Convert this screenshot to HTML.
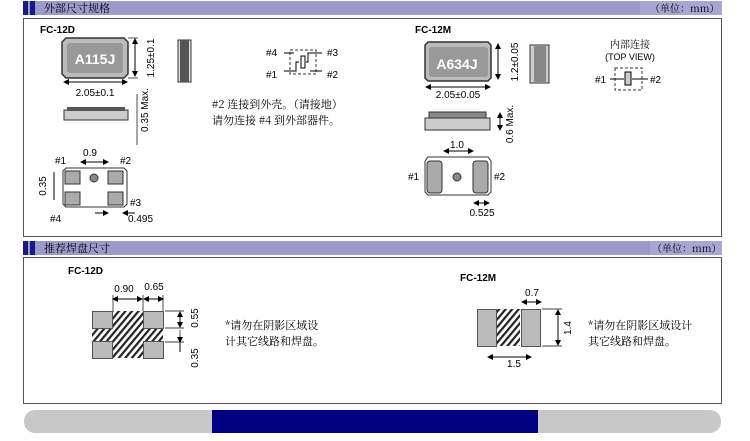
<!DOCTYPE html>
<html><head><meta charset="utf-8"><style>
body{margin:0;background:#fff}
svg text{font-family:"Liberation Sans","Noto Sans CJK SC",sans-serif;fill:#000}
.cn{font-family:"Noto Serif CJK SC","Noto Sans CJK SC",serif}
</style></head><body>
<svg width="750" height="436" viewBox="0 0 750 436" xmlns="http://www.w3.org/2000/svg">
<defs>
<pattern id="h" width="5" height="5" patternUnits="userSpaceOnUse" patternTransform="rotate(40)"><rect width="5" height="5" fill="#fff"/><rect width="2.2" height="5" fill="#222"/></pattern>
<marker id="a" markerWidth="6" markerHeight="6" refX="5" refY="3" orient="auto"><path d="M0,0L6,3L0,6z" fill="#000"/></marker>
<marker id="b" markerWidth="6" markerHeight="6" refX="1" refY="3" orient="auto"><path d="M6,0L0,3L6,6z" fill="#000"/></marker>
</defs>
<rect x="23" y="1" width="699" height="14" fill="#9b9bcb"/>
<rect x="23" y="1" width="5" height="14" fill="#1a1a80"/><rect x="30" y="1" width="5" height="14" fill="#1a1a80"/>
<text x="44" y="12" font-size="11" class="cn" fill="#222">外部尺寸规格</text>
<rect x="640" y="1" width="82" height="14" fill="#a7a7d3"/>
<text x="650" y="12" font-size="10" class="cn">（单位：mm）</text>
<rect x="23.5" y="18.5" width="698" height="218" fill="#fff" stroke="#555"/>
<text x="40" y="33" font-size="10" font-weight="bold">FC-12D</text>
<path d="M66,38H124L128,42V74L124,78H66L62,74V42Z" fill="#bbb" stroke="#333" stroke-width="1.5"/>
<rect x="67" y="43" width="56" height="30" rx="3" fill="#999"/>
<text x="95" y="64" font-size="14" font-weight="bold" text-anchor="middle" style="fill:#fff">A115J</text>
<line x1="135" y1="39" x2="135" y2="76" stroke="#000" marker-start="url(#b)" marker-end="url(#a)"/>
<line x1="128" y1="38" x2="138" y2="38" stroke="#000" stroke-width=".7"/><line x1="128" y1="78" x2="138" y2="78" stroke="#000" stroke-width=".7"/>
<text transform="translate(154,58) rotate(-90)" font-size="10" text-anchor="middle">1.25±0.1</text>
<rect x="178" y="40" width="13" height="42" fill="#ddd" stroke="#333"/><rect x="180" y="40" width="9" height="42" fill="#555"/>
<line x1="64" y1="82" x2="127" y2="82" stroke="#000" marker-start="url(#b)" marker-end="url(#a)"/>
<text x="95" y="96" font-size="10" text-anchor="middle">2.05±0.1</text>
<rect x="64" y="110" width="64" height="10" fill="#ccc" stroke="#333"/><rect x="67" y="107" width="58" height="4" fill="#555"/>
<line x1="137" y1="94" x2="137" y2="145" stroke="#000" stroke-width=".7"/>
<text transform="translate(148,110) rotate(-90)" font-size="10" text-anchor="middle">0.35 Max.</text>
<text x="266" y="56" font-size="10">#4</text><text x="327" y="56" font-size="10">#3</text>
<text x="266" y="78" font-size="10">#1</text><text x="327" y="78" font-size="10">#2</text>
<rect x="290" y="50" width="26" height="24" fill="none" stroke="#333" stroke-dasharray="3,2"/>
<path d="M284,53H294M284,71H296V62H299M306,62H308V53H322M310,71H322" fill="none" stroke="#000"/>
<rect x="301" y="56" width="4" height="12" fill="#fff" stroke="#000"/>
<text x="212" y="108" font-size="11" class="cn">#2 连接到外壳。（请接地）</text>
<text x="212" y="124" font-size="11" class="cn">请勿连接 #4 到外部器件。</text>
<path d="M66,168H124L127,171V204L124,207H66L63,204V171Z" fill="#fff" stroke="#333"/>
<rect x="65" y="171" width="15" height="13" fill="#aaa" stroke="#333"/><rect x="108" y="171" width="15" height="13" fill="#aaa" stroke="#333"/>
<rect x="65" y="192" width="15" height="13" fill="#aaa" stroke="#333"/><rect x="108" y="192" width="15" height="13" fill="#aaa" stroke="#333"/>
<circle cx="94" cy="178" r="4" fill="#888" stroke="#333"/>
<line x1="81" y1="162" x2="108" y2="162" stroke="#000" marker-start="url(#b)" marker-end="url(#a)"/>
<text x="90" y="156" font-size="10" text-anchor="middle">0.9</text>
<text x="55" y="164" font-size="10">#1</text><text x="120" y="164" font-size="10">#2</text>
<text x="130" y="206" font-size="10">#3</text><text x="50" y="222" font-size="10">#4</text>
<text x="128" y="222" font-size="10">0.495</text>
<line x1="54" y1="172" x2="54" y2="200" stroke="#000"/>
<text transform="translate(46,186) rotate(-90)" font-size="10" text-anchor="middle">0.35</text>
<line x1="95" y1="213" x2="108" y2="213" stroke="#000" marker-end="url(#a)"/><line x1="135" y1="213" x2="123" y2="213" stroke="#000" marker-end="url(#a)"/>
<text x="415" y="33" font-size="10" font-weight="bold">FC-12M</text>
<path d="M428,42H488L491,45V78L488,81H428L425,78V45Z" fill="#bbb" stroke="#333" stroke-width="1.5"/>
<rect x="429" y="47" width="59" height="30" rx="3" fill="#999"/>
<text x="457" y="69" font-size="14" font-weight="bold" text-anchor="middle" style="fill:#fff">A634J</text>
<line x1="498" y1="44" x2="498" y2="79" stroke="#000" marker-start="url(#b)" marker-end="url(#a)"/>
<text transform="translate(518,62) rotate(-90)" font-size="10" text-anchor="middle">1.2±0.05</text>
<rect x="530" y="45" width="19" height="38" fill="#ccc" stroke="#333"/><rect x="534" y="45" width="12" height="38" fill="#888"/>
<line x1="426" y1="87" x2="490" y2="87" stroke="#000" marker-start="url(#b)" marker-end="url(#a)"/>
<text x="458" y="98" font-size="10" text-anchor="middle">2.05±0.05</text>
<rect x="425" y="118" width="65" height="12" fill="#ccc" stroke="#333"/><rect x="429" y="112" width="57" height="6" fill="#888" stroke="#333"/>
<line x1="500" y1="113" x2="500" y2="130" stroke="#000" marker-start="url(#b)" marker-end="url(#a)"/>
<text transform="translate(513,124) rotate(-90)" font-size="10" text-anchor="middle">0.6 Max.</text>
<path d="M428,157H488L491,161V192L488,195H428L425,192V161Z" fill="#fff" stroke="#333"/>
<rect x="427" y="161" width="15" height="32" rx="3" fill="#aaa" stroke="#333"/><rect x="473" y="161" width="15" height="32" rx="3" fill="#aaa" stroke="#333"/>
<circle cx="457" cy="177" r="4" fill="#888" stroke="#333"/>
<line x1="444" y1="151" x2="473" y2="151" stroke="#000" marker-start="url(#b)" marker-end="url(#a)"/>
<text x="457" y="148" font-size="10" text-anchor="middle">1.0</text>
<text x="408" y="180" font-size="10">#1</text><text x="494" y="180" font-size="10">#2</text>
<line x1="474" y1="203" x2="489" y2="203" stroke="#000" marker-start="url(#b)" marker-end="url(#a)"/>
<text x="482" y="216" font-size="10" text-anchor="middle">0.525</text>
<text x="630" y="48" font-size="10" text-anchor="middle" class="cn" fill="#333">内部连接</text>
<text x="630" y="60" font-size="9" text-anchor="middle">(TOP VIEW)</text>
<rect x="615" y="68" width="27" height="22" fill="none" stroke="#333" stroke-dasharray="3,2"/>
<line x1="610" y1="79" x2="624" y2="79" stroke="#000"/><line x1="632" y1="79" x2="648" y2="79" stroke="#000"/>
<rect x="625" y="72" width="6" height="13" fill="#ccc" stroke="#000"/>
<text x="595" y="83" font-size="10">#1</text><text x="650" y="83" font-size="10">#2</text>
<rect x="23" y="241" width="699" height="14" fill="#9b9bcb"/>
<rect x="23" y="241" width="5" height="14" fill="#1a1a80"/><rect x="30" y="241" width="5" height="14" fill="#1a1a80"/>
<text x="44" y="252" font-size="11" class="cn" fill="#222">推荐焊盘尺寸</text>
<rect x="650" y="241" width="72" height="14" fill="#a7a7d3"/>
<text x="652" y="252" font-size="10" class="cn">（单位：mm）</text>
<rect x="23.5" y="257.5" width="698" height="146" fill="#fff" stroke="#555"/>
<text x="68" y="274" font-size="10" font-weight="bold">FC-12D</text>
<rect x="112" y="311" width="31" height="47" fill="url(#h)"/>
<rect x="92" y="328" width="71" height="14" fill="url(#h)"/>
<rect x="92.5" y="311.5" width="20" height="17" fill="#bbb" stroke="#555"/><rect x="143.5" y="311.5" width="20" height="17" fill="#bbb" stroke="#555"/>
<rect x="92.5" y="341.5" width="20" height="17" fill="#bbb" stroke="#555"/><rect x="143.5" y="341.5" width="20" height="17" fill="#bbb" stroke="#555"/>
<line x1="113" y1="299" x2="142" y2="299" stroke="#000" marker-start="url(#b)" marker-end="url(#a)"/>
<line x1="144" y1="299" x2="163" y2="299" stroke="#000" marker-start="url(#b)" marker-end="url(#a)"/>
<line x1="113" y1="295" x2="113" y2="311" stroke="#000" stroke-width=".7"/><line x1="143" y1="295" x2="143" y2="311" stroke="#000" stroke-width=".7"/><line x1="163" y1="295" x2="163" y2="311" stroke="#000" stroke-width=".7"/>
<text x="124" y="292" font-size="10" text-anchor="middle">0.90</text><text x="154" y="290" font-size="10" text-anchor="middle">0.65</text>
<line x1="180" y1="312" x2="180" y2="327" stroke="#000" marker-start="url(#b)" marker-end="url(#a)"/>
<line x1="180" y1="330" x2="180" y2="342" stroke="#000" stroke-width=".7"/><line x1="180" y1="342" x2="180" y2="352" stroke="#000" marker-start="url(#a)"/>
<line x1="165" y1="311" x2="184" y2="311" stroke="#000" stroke-width=".7"/><line x1="165" y1="328" x2="184" y2="328" stroke="#000" stroke-width=".7"/><line x1="165" y1="342" x2="184" y2="342" stroke="#000" stroke-width=".7"/>
<text transform="translate(198,318) rotate(-90)" font-size="10" text-anchor="middle">0.55</text>
<text transform="translate(198,358) rotate(-90)" font-size="10" text-anchor="middle">0.35</text>
<text x="225" y="329" font-size="11" class="cn">*请勿在阴影区域设</text>
<text x="225" y="345" font-size="11" class="cn">计其它线路和焊盘。</text>
<text x="460" y="281" font-size="10" font-weight="bold">FC-12M</text>
<rect x="497" y="309" width="23" height="37" fill="url(#h)"/>
<rect x="477.5" y="309.5" width="19" height="37" fill="#bbb" stroke="#555"/><rect x="521.5" y="309.5" width="19" height="37" fill="#bbb" stroke="#555"/>
<line x1="522" y1="302" x2="541" y2="302" stroke="#000" marker-start="url(#b)" marker-end="url(#a)"/>
<text x="532" y="296" font-size="10" text-anchor="middle">0.7</text>
<line x1="558" y1="310" x2="558" y2="345" stroke="#000" marker-start="url(#b)" marker-end="url(#a)"/>
<line x1="542" y1="309" x2="562" y2="309" stroke="#000" stroke-width=".7"/><line x1="542" y1="346" x2="562" y2="346" stroke="#000" stroke-width=".7"/>
<text transform="translate(571,328) rotate(-90)" font-size="10" text-anchor="middle">1.4</text>
<line x1="488" y1="357" x2="531" y2="357" stroke="#000" marker-start="url(#b)" marker-end="url(#a)"/>
<text x="514" y="367" font-size="10" text-anchor="middle">1.5</text>
<text x="588" y="329" font-size="11" class="cn">*请勿在阴影区域设计</text>
<text x="588" y="345" font-size="11" class="cn">其它线路和焊盘。</text>
<rect x="24" y="410" width="697" height="23" rx="11" fill="#c8c8c8"/>
<rect x="212" y="410" width="326" height="23" fill="#000080"/>
</svg>
</body></html>
